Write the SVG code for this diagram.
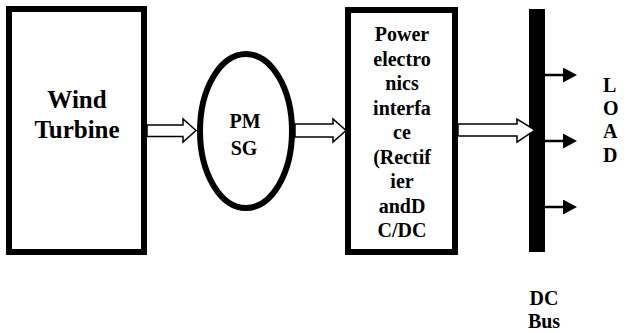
<svg xmlns="http://www.w3.org/2000/svg" width="627" height="333" viewBox="0 0 627 333">
<style>
.box{fill:#fff;stroke:#000;stroke-width:6}
text{font-family:'Liberation Serif','Times New Roman',Times,serif;font-weight:700;fill:#000;text-anchor:middle}
.hollow{fill:#fff;stroke:#000;stroke-width:1.5;stroke-linejoin:miter}
.load{stroke:#000;stroke-width:2.5;fill:none}
.l{text-anchor:start}
</style>
<defs>
<marker id="ah" markerWidth="14" markerHeight="15" refX="0" refY="7.5" orient="auto" markerUnits="userSpaceOnUse">
<path d="M0,0 L14,7.5 L0,15 Z" fill="#000"/>
</marker>
</defs>
<rect width="627" height="333" fill="#fff"/>
<g id="wind-turbine">
<rect class="box" x="9" y="9" width="135" height="243"/>
<text font-family="Liberation Serif" font-size="25" x="77" y="108">Wind</text>
<text font-family="Liberation Serif" font-size="25" x="77" y="138">Turbine</text>
</g>
<g id="pmsg">
<ellipse class="box" cx="246" cy="131" rx="46" ry="77"/>
<text font-size="20" x="245" y="128">PM</text>
<text font-size="20" x="244" y="155">SG</text>
</g>
<g id="power-electronics">
<rect class="box" x="348" y="10" width="107" height="242"/>
<text font-size="20" x="402" y="41">Power</text>
<text font-size="20" x="402" y="65.5">electro</text>
<text font-size="20" x="402" y="90">nics</text>
<text font-size="20" x="402" y="114.5">interfa</text>
<text font-size="20" x="402" y="139">ce</text>
<text font-size="20" x="402" y="163.5">(Rectif</text>
<text font-size="20" x="402" y="188">ier</text>
<text font-size="20" x="402" y="212.5">andD</text>
<text font-size="20" x="402" y="237">C/DC</text>
</g>
<g id="dc-bus">
<rect x="529" y="9" width="16" height="243" fill="#000"/>
<text font-size="20" x="544" y="305">DC</text>
<text font-size="20" x="544" y="328">Bus</text>
</g>
<g id="load">
<text class="l" font-size="20" x="603" y="92">L</text>
<text class="l" font-size="20" x="603" y="115">O</text>
<text class="l" font-size="20" x="603" y="138">A</text>
<text class="l" font-size="20" x="603" y="162">D</text>
</g>
<g id="connectors">
<polygon class="hollow" points="147,125 183,125 183,119 196,130.5 183,142 183,136.5 147,136.5"/>
<polygon class="hollow" points="295,124 333,124 333,119 346,130.5 333,142 333,137 295,137"/>
<polygon class="hollow" points="458,124 517,124 517,119 535,130 517,142 517,136 458,136"/>
<line class="load" x1="545" y1="75" x2="563" y2="75" marker-end="url(#ah)"/>
<line class="load" x1="545" y1="141" x2="563" y2="141" marker-end="url(#ah)"/>
<line class="load" x1="545" y1="207" x2="563" y2="207" marker-end="url(#ah)"/>
</g>
</svg>
